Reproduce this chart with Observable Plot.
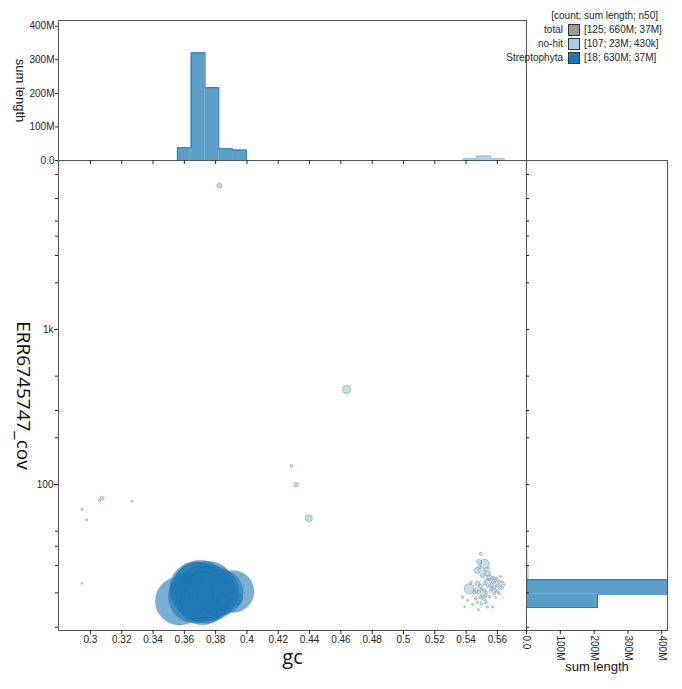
<!DOCTYPE html>
<html><head><meta charset="utf-8">
<script src="https://cdn.jsdelivr.net/npm/d3@7"></script>
<script src="https://cdn.jsdelivr.net/npm/@observablehq/plot@0.6"></script>
<style>
body{margin:0;background:#fff;}
#wrap{position:relative;width:682px;height:689px;overflow:hidden;background:#fff;}
#wrap > svg{position:absolute;left:0;top:0;margin:0;}
.leg{position:absolute;font:10px 'Liberation Sans',Arial,sans-serif;color:#222;white-space:nowrap;line-height:12px;}
.sw{position:absolute;width:10px;height:10px;border:1px solid #333;}
</style></head><body><div id="wrap"></div>
<script>
// ---- data ----
const streptoGc  = [0.3690,0.3709,0.3677,0.3722,0.3665,0.3703,0.3716,0.3741,0.3767,0.3754,0.3780,0.3735,0.3569,0.3607,0.3831,0.3843,0.3911,0.3927];
const streptoCov = [20.7,19.5,21.3,20.1,18.9,22.0,18.4,20.7,19.5,21.7,20.4,18.7,17.7,19.5,20.1,17.9,20.4,18.4];
const streptoLen = [50,48,46,45,44,44,44,45,44,43,43,42,37,1,33,2,28,3]; // Mb

const nohitGc  = [0.3824,0.4636,0.2947,0.2976,0.3058,0.3075,0.3266,0.4284,0.4314,0.4395,0.2947,
  0.5494,0.5484,0.5518,0.5473,0.5537,0.5505,0.5548,0.5569,0.5590,0.5611,0.5632,0.5600,0.5622,0.5580,0.5420,0.5473,0.5452,0.5484,0.5516,0.5505,
  0.5526,0.5516,0.5526,0.5377,0.5462,0.5537,0.5569,0.5580,0.5611,0.5558,0.5550,0.5562,0.5581,0.5594,0.5613,0.5633,0.5645,0.5556,0.5530,0.5518,
  0.5492,0.5498,0.5530,0.5550,0.5492,0.5473,0.5498,0.5409,0.5441,0.5463,0.5431,0.5588,0.5600,0.5569,0.5537,0.5518,0.5486,0.5575,0.5620,0.5543,
  0.5390,0.5588,0.5479];
const nohitCov = [8490,410,69,59,78.5,81.6,78,132,99.6,60.6,23,
  35.7,31.6,30.8,27.9,26.6,25.9,25.2,24.0,24.0,23.5,23.5,22.3,22.3,21.8,21.2,22.9,20.2,20.2,20.7,19.3,
  19.3,18.3,17.4,18.7,18.3,16.2,16.2,19.8,19.8,20.7,24.4,22.9,23.3,24.7,21.3,21.6,22.6,21.9,24.0,23.0,
  22.0,21.0,20.1,18.9,18.7,17.3,17.0,17.9,16.8,20.7,23.3,20.7,20.4,21.3,22.3,27.9,29.2,25.2,25.5,28.8,
  16.3,18.7,15.6];
const nohitLen = [0.4,1.0,0.08,0.08,0.1,0.25,0.08,0.1,0.3,0.8,0.05,
  0.15,0.4,1.3,0.6,0.5,0.3,0.4,0.2,0.15,0.15,0.1,0.15,0.1,0.2,1.6,0.4,0.2,0.25,0.2,0.15,
  0.15,0.2,0.15,0.1,0.1,0.08,0.08,0.15,0.1,0.2,0.1,0.1,0.1,0.1,0.08,0.08,0.06,0.12,0.2,0.15,
  0.3,0.1,0.1,0.1,0.15,0.1,0.1,0.06,0.06,0.3,0.12,0.1,0.08,0.1,0.2,0.2,0.2,0.08,0.06,0.1,
  0.05,0.06,0.05];

const topEdgesStrepto = [0.3556,0.3644,0.3732,0.3820,0.3908,0.3996];
const topSumStrepto   = [38e6,321e6,217e6,35e6,31e6];
const topEdgesNohit   = [0.5380,0.5468,0.5556,0.5644];
const topSumNohit     = [5e6,13e6,5e6];
const rightEdgesStrepto = [16.1,19.6,24.3];
const rightSumStrepto   = [210e6,417e6];
const rightEdgesNohit   = [16.1,19.6,24.3,30.1,37.3,46.2];
const rightSumNohit     = [3e6,6e6,8e6,5e6,1e6];

const xTicks = [0.3,0.32,0.34,0.36,0.38,0.4,0.42,0.44,0.46,0.48,0.5,0.52,0.54,0.56];
const yMajorTicks = [100,1000];
const yMinorTicks = [12,20,30,40,50,200,300,500,2000,3000,4000,5000,7000,10000];
const histTicks = [0,1e8,2e8,3e8,4e8];

const legendNames  = ["total","no-hit","Streptophyta"];
const legendStats  = ["[125; 660M; 37M]","[107; 23M; 430k]","[18; 630M; 37M]"];
const legendColors = ["#999999","#a6cee3","#1f78b4"];
const legendHeader = "[count; sum length; n50]";

const xAxisTitle = "gc";
const yAxisTitle = "ERR6745747_cov";
const histTitle = "sum length";

// ---- derived tables ----
const strepto = streptoGc.map((g,i)=>({gc:g, cov:streptoCov[i], len:streptoLen[i]}));
const nohit = nohitGc.map((g,i)=>({gc:g, cov:nohitCov[i], len:nohitLen[i]}));
const bins = (e,s)=>s.map((v,i)=>({a:e[i], b:e[i+1], v}));
function outline(e,s){const p=[{e:e[0],v:0}];s.forEach((v,i)=>{p.push({e:e[i],v},{e:e[i+1],v});});p.push({e:e[e.length-1],v:0});return p;}

const W=682,H=689;
const xDomain=[0.2796,0.5786], yDomain=[11.43,12300], hDomain=[0,417e6];
const font="'Liberation Sans', Arial, sans-serif";
const baseStyle={background:"transparent",overflow:"visible",fontFamily:font,fontSize:"10px",color:"#222"};
const fmtM = d => d===0 ? "0.0" : (d/1e6)+"M";
const blank = () => "";

const mainPlot = Plot.plot({
  width:W,height:H,marginLeft:58,marginRight:156,marginTop:160,marginBottom:59,
  style:baseStyle,
  x:{domain:xDomain},
  y:{type:"log",domain:yDomain},
  r:{type:"sqrt",domain:[0,50],range:[0,28]},
  marks:[
    Plot.dot(nohit,{x:"gc",y:"cov",r:"len",fill:"#a6cee3",fillOpacity:0.65,stroke:"#5b7f95",strokeOpacity:0.55,strokeWidth:0.8}),
    Plot.dot(strepto,{x:"gc",y:"cov",r:"len",fill:"#1f78b4",fillOpacity:0.6,stroke:"#1a6496",strokeOpacity:0.22,strokeWidth:1}),
    Plot.frame({stroke:"#555"}),
    Plot.axisX({ticks:xTicks,tickSize:4,tickPadding:1,label:null,tickFormat:d=>String(d)}),
    Plot.axisY({ticks:yMinorTicks,tickSize:3,label:null,tickFormat:blank}),
    Plot.axisY({ticks:yMajorTicks,tickSize:4,tickPadding:1,label:null,tickFormat:d=>d>=1000?(d/1000)+"k":String(d)}),
    Plot.text([xAxisTitle],{text:d=>d,frameAnchor:"bottom",textAnchor:"middle",dy:33,fontSize:20,fontFamily:"'Open Sans', sans-serif",fill:"#111"}),
    Plot.text([yAxisTitle],{text:d=>d,frameAnchor:"left",textAnchor:"middle",dx:-35,rotate:90,fontSize:19,fontFamily:"'Open Sans', sans-serif",fill:"#111"})
  ]
});

const topPlot = Plot.plot({
  width:W,height:H,marginLeft:58,marginRight:156,marginTop:20,marginBottom:H-160,
  style:baseStyle,
  x:{domain:xDomain, axis:null},
  y:{domain:hDomain, axis:null},
  marks:[
    Plot.rect(bins(topEdgesNohit,topSumNohit),{x1:"a",x2:"b",y1:()=>0,y2:"v",fill:"#a6cee3",fillOpacity:0.85}),
    Plot.line(outline(topEdgesNohit,topSumNohit),{x:"e",y:"v",stroke:"#8dbfdb",strokeWidth:1}),
    Plot.rect(bins(topEdgesStrepto,topSumStrepto),{x1:"a",x2:"b",y1:()=>0,y2:"v",fill:"#1f78b4",fillOpacity:0.72}),
    Plot.line(outline(topEdgesStrepto,topSumStrepto),{x:"e",y:"v",stroke:"#2a7fb8",strokeWidth:1.2}),
    Plot.frame({stroke:"#555"}),
    Plot.axisX({ticks:xTicks,tickSize:4,label:null,tickFormat:blank}),
    Plot.axisY({ticks:histTicks,tickSize:3,tickPadding:1,label:null,tickFormat:fmtM}),
    Plot.text([histTitle],{text:d=>d,frameAnchor:"left",textAnchor:"middle",dx:-38,rotate:90,fontSize:13,fill:"#111"})
  ]
});

const rightPlot = Plot.plot({
  width:W,height:H,marginLeft:526,marginRight:15,marginTop:160,marginBottom:59,
  style:baseStyle,
  x:{domain:hDomain, axis:null},
  y:{type:"log",domain:yDomain, axis:null},
  marks:[
    Plot.rect(bins(rightEdgesNohit,rightSumNohit),{y1:"a",y2:"b",x1:()=>0,x2:"v",fill:"#a6cee3",fillOpacity:0.85}),
    Plot.rect(bins(rightEdgesStrepto,rightSumStrepto),{y1:"a",y2:"b",x1:()=>0,x2:"v",fill:"#1f78b4",fillOpacity:0.72}),
    Plot.line(outline(rightEdgesStrepto,rightSumStrepto),{x:"v",y:"e",stroke:"#2a7fb8",strokeWidth:1.2}),
    Plot.frame({stroke:"#555"}),
    Plot.axisY({anchor:"left",ticks:yMinorTicks.concat(yMajorTicks),tickSize:-3,label:null,tickFormat:blank}),
    Plot.axisX({ticks:histTicks,tickSize:4,tickPadding:1,tickRotate:90,label:null,tickFormat:fmtM}),
    Plot.text([histTitle],{text:d=>d,frameAnchor:"bottom",textAnchor:"middle",dy:40,fontSize:13,fill:"#111"})
  ]
});

const wrap=document.getElementById("wrap");
wrap.append(mainPlot, topPlot, rightPlot);

// legend
const hdr=document.createElement("div");
hdr.className="leg"; hdr.textContent=legendHeader;
hdr.style.right=(W-658)+"px"; hdr.style.top="10px";
wrap.append(hdr);
legendNames.forEach((n,i)=>{
  const y=30+i*14;
  const lab=document.createElement("div");
  lab.className="leg"; lab.textContent=n; lab.style.right=(W-563)+"px"; lab.style.top=(y-6)+"px";
  const sw=document.createElement("div");
  sw.className="sw"; sw.style.left="568px"; sw.style.top=(y-6)+"px"; sw.style.background=legendColors[i];
  const st=document.createElement("div");
  st.className="leg"; st.textContent=legendStats[i]; st.style.left="584px"; st.style.top=(y-6)+"px";
  wrap.append(lab,sw,st);
});
</script></body></html>
